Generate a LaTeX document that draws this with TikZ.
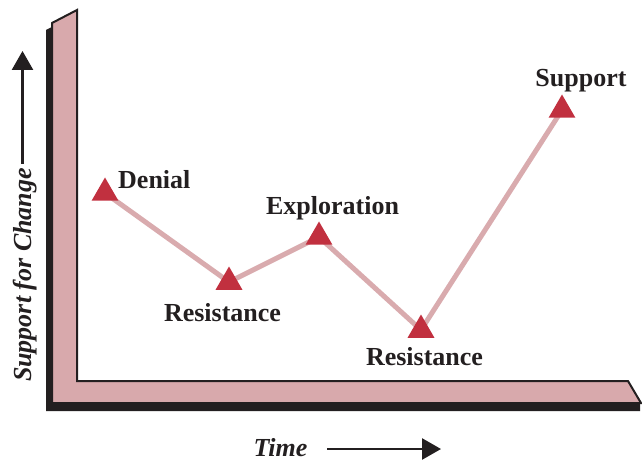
\documentclass[tikz,border=0pt]{standalone}
\usepackage{fontspec}
\setmainfont{Liberation Serif}
\usetikzlibrary{arrows.meta,shapes.geometric}
\definecolor{framepink}{HTML}{D8A9AC}
\definecolor{linkpink}{HTML}{D9ABAE}
\definecolor{markred}{HTML}{C1303F}
\definecolor{inkdark}{HTML}{231F20}
\begin{document}
\begin{tikzpicture}[x=1pt,y=-1pt,
 lbl/.style={font=\bfseries\fontsize{26}{26}\selectfont, text=inkdark, inner sep=0pt},
 axl/.style={font=\bfseries\itshape\fontsize{26}{26}\selectfont, text=inkdark, inner sep=0pt},
 marker/.style={regular polygon, regular polygon sides=3, fill=markred, minimum size=31pt, inner sep=0pt},
 link/.style={draw=linkpink, line width=5pt},
 axarrow/.style={draw=inkdark, line width=2.5pt, -{Triangle[length=19pt,width=21pt]}}]
\useasboundingbox (0,0) rectangle (642,462);
% frame shadow and face
\fill[inkdark] (46,30) -- (71,17) -- (71,388) -- (624,388) -- (640,404) -- (640,411) -- (46,411) -- cycle;
\filldraw[fill=framepink, draw=inkdark, line width=2pt, line join=miter]
  (52,23) -- (77,10) -- (77,381) -- (628,381) -- (641,403) -- (52,403) -- cycle;
% points
\coordinate (c1) at (105,193);
\coordinate (c2) at (229,282);
\coordinate (c3) at (319,237);
\coordinate (c4) at (421,330);
\coordinate (c5) at (562,110);
\draw[link] (c1) -- (c2) -- (c3) -- (c4) -- (c5);
\node[marker] (m1) at (c1) {};
\node[marker] (m2) at (c2) {};
\node[marker] (m3) at (c3) {};
\node[marker] (m4) at (c4) {};
\node[marker] (m5) at (c5) {};
% labels
\node[lbl, anchor=base west] (l1) at (118,189) {Denial};
\node[lbl, anchor=base] (l2) at (222.5,321) {Resistance};
\node[lbl, anchor=base] (l3) at (332.5,215) {Exploration};
\node[lbl, anchor=base] (l4) at (424.5,365) {Resistance};
\node[lbl, anchor=base] (l5) at (581,87) {Support};
% axes labels and arrows
\node[axl, anchor=base, rotate=90] (ylab) at (31,275) {Support for Change};
\node[axl, anchor=base, text depth=0pt] (xlab) at (280.5,456) {Time};
\coordinate (ya0) at (22.5,164);
\coordinate (ya1) at (22.5,51);
\draw[axarrow] (ya0) -- (ya1);
\coordinate (xa0) at (327,449);
\coordinate (xa1) at (441,449);
\draw[axarrow] (xa0) -- (xa1);
\end{tikzpicture}
\end{document}
